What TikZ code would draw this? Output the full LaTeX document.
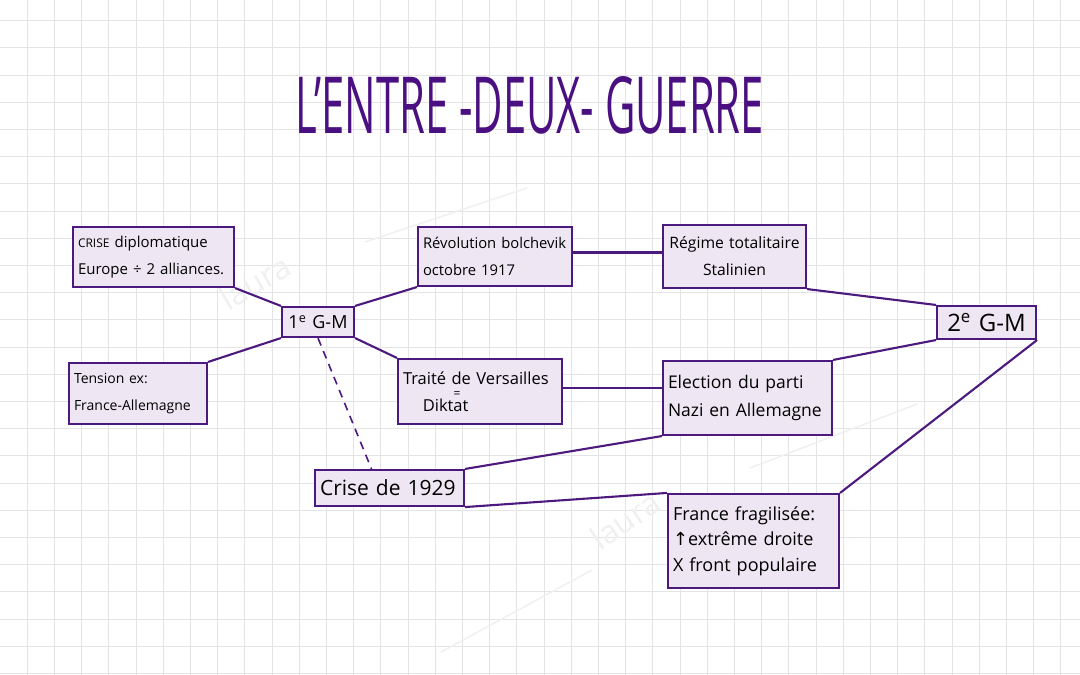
\documentclass[tikz,border=0pt]{standalone}
\usepackage{fontspec}
\setmainfont{Open Sans}
\newfontfamily\symfont{DejaVu Sans}
\usepackage{graphicx}
\definecolor{pur}{HTML}{4C1A7E}
\definecolor{tpur}{HTML}{4A0F80}
\definecolor{lav}{HTML}{EEE7F3}
\definecolor{gridc}{HTML}{E4E4E7}
\definecolor{wmc}{HTML}{F0F0F0}
\newcommand{\fs}[2]{\fontsize{#1}{#2}\selectfont}
\begin{document}
\begin{tikzpicture}[x=1pt,y=-1pt,
  box/.style={draw=pur, fill=lav, line width=2.1pt, inner xsep=5pt, inner ysep=0pt,
    font=\fs{15}{27}, align=left},
  conn/.style={draw=pur, line width=2.1pt},
  dashconn/.style={draw=pur, line width=1.6pt, dash pattern=on 8pt off 6pt},
  gridline/.style={draw=gridc, line width=0.8pt},
  wm/.style={text=wmc, font=\fs{32}{32}},
  wmline/.style={draw=wmc, line width=1.5pt}]
\fill[white] (0,0) rectangle (1080,675);
\useasboundingbox (0,0) rectangle (1080,675);
% grid
\foreach \i in {1,...,39} \draw[gridline] (\i*27.2,0) -- (\i*27.2,675);
\foreach \j in {0,...,24} \draw[gridline] (0,20.5+\j*27.2) -- (1080,20.5+\j*27.2);
% watermarks
\node[wm, rotate=30] (wma) at (255,282) {laura};
\draw[wmline] (365,242) -- (527,188);
\node[wm, rotate=34] (wmb) at (625,520) {laura};
\draw[wmline] (750,468) -- (917,404);
\draw[wmline] (441,652) -- (592,570);
% title
\node[text=tpur, inner sep=0pt] (title) at (530,105) {\resizebox{468pt}{57pt}{L’ENTRE -DEUX- GUERRE}};
% boxes
\node[box, minimum height=60pt, text width=151pt, font=\fs{15}{27}] (crise) at (153.5,257)
  {\mbox{{\fs{12}{12}CRISE} diplomatique}\\\mbox{Europe ÷ 2 alliances.}};
\node[box, minimum height=59pt, text width=144pt, font=\fs{14.8}{27}] (rev) at (495,256.5)
  {\mbox{Révolution bolchevik}\\\mbox{octobre 1917}};
\node[box, minimum height=30pt, text width=62pt, align=center, font=\fs{18}{18}] (gm1) at (318,322)
  {\mbox{1\textsuperscript{e} G-M}};
\node[box, minimum height=61pt, text width=128pt, font=\fs{14}{27}] (ten) at (138,393.5)
  {\mbox{Tension ex:}\\\mbox{France-Allemagne}};
\node[box, minimum height=65pt, text width=154pt, font=\fs{16.5}{27}] (tra) at (480,391.5)
  {\mbox{Traité de Versailles}\\\hspace*{1.2em}\mbox{Diktat}};
\node[font=\fs{12}{12}, inner sep=0pt] (eq) at (457,395) {=};
\node[box, minimum height=63pt, text width=133pt, align=center, font=\fs{15.7}{27}] (reg) at (734.5,256.5)
  {\mbox{Régime totalitaire}\\\mbox{Stalinien}};
\node[box, minimum height=33pt, text width=89pt, align=center, font=\fs{24}{24}] (gm2) at (986.5,322.5)
  {\mbox{2\textsuperscript{e} G-M}};
\node[box, minimum height=74pt, text width=159pt, font=\fs{17.5}{28}] (ele) at (747.5,398)
  {\mbox{Election du parti}\\\mbox{Nazi en Allemagne}};
\node[box, minimum height=36pt, text width=139pt, font=\fs{21}{21}] (c29) at (389.5,488)
  {\mbox{Crise de 1929}};
\node[box, minimum height=94pt, text width=161pt, font=\fs{18}{25.5}] (fra) at (753.5,541)
  {\mbox{France fragilisée:}\\\mbox{{\symfont ↑}extrême droite}\\\mbox{X front populaire}};
% connectors
\draw[conn] (crise.south east) -- (gm1.north west);
\draw[conn] (rev.south west) -- (gm1.north east);
\draw[conn] (ten.north east) -- (gm1.south west);
\draw[conn] (gm1.south east) -- (tra.north west);
\coordinate (dashend) at ([xshift=-18pt]c29.north);
\draw[dashconn] (gm1.south) -- (dashend);
\coordinate (r1) at ([yshift=4pt]rev.east);
\draw[conn] (r1) -- (r1 -| reg.west);
\coordinate (t1) at ([yshift=3.5pt]tra.east);
\draw[conn] (t1) -- (t1 -| ele.west);
\draw[conn] (reg.south east) -- (gm2.north west);
\draw[conn] (ele.north east) -- (gm2.south west);
\draw[conn] (gm2.south east) -- (fra.north east);
\draw[conn] (c29.north east) -- (ele.south west);
\draw[conn] (c29.south east) -- (fra.north west);
\end{tikzpicture}
\end{document}
